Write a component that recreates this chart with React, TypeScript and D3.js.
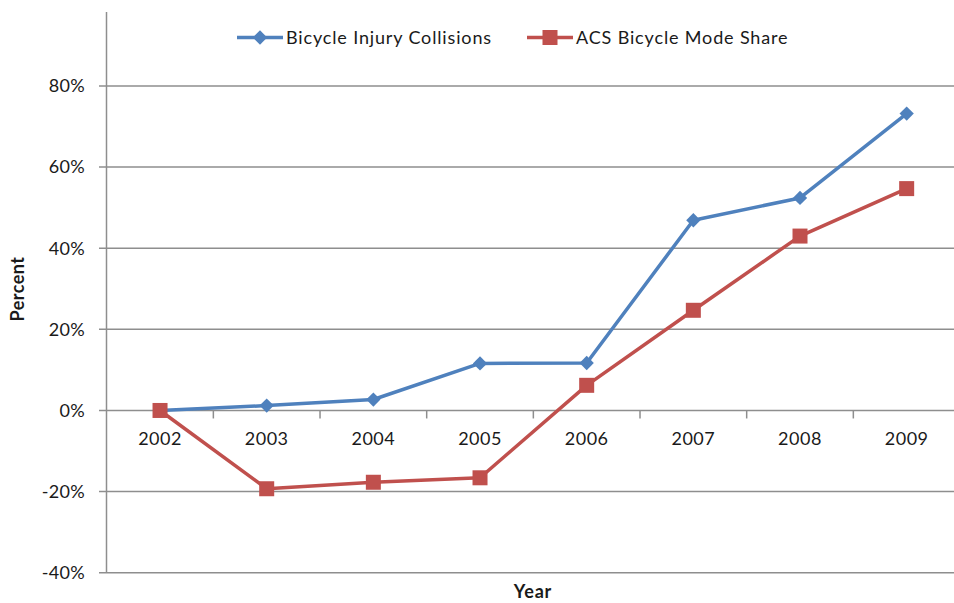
import React, { useEffect, useRef } from "react";
import * as d3 from "d3";

const years = ["2002", "2003", "2004", "2005", "2006", "2007", "2008", "2009"];
const injuryCollisions = [0, 0.012, 0.027, 0.116, 0.117, 0.469, 0.524, 0.732];
const modeShare = [0, -0.193, -0.177, -0.166, 0.062, 0.247, 0.43, 0.547];
const yTicks = [-0.4, -0.2, 0, 0.2, 0.4, 0.6, 0.8];
const seriesNames = ["Bicycle Injury Collisions", "ACS Bicycle Mode Share"];
const colors = ["#4F81BD", "#C0504D"];

const W = 954;
const H = 603;
const FONT = "Lato, 'Open Sans', sans-serif";

export default function App() {
  const ref = useRef<SVGSVGElement>(null);
  useEffect(() => {
    const svg = d3.select(ref.current);
    svg.selectAll("*").remove();
    const x = d3.scaleBand().domain(years).range([106.7, 960]);
    const y = d3.scaleLinear().domain([-0.4, 0.8]).range([572.7, 86]);
    const xc = (d: string) => (x(d) as number) + x.bandwidth() / 2;

    const g = svg.append("g");
    // gridlines
    g.selectAll("line.grid")
      .data(yTicks)
      .enter()
      .append("line")
      .attr("x1", 99)
      .attr("x2", W)
      .attr("y1", (d) => y(d))
      .attr("y2", (d) => y(d))
      .attr("stroke", "#8e8e8e")
      .attr("stroke-width", 1.5);
    // y axis line
    g.append("line")
      .attr("x1", 106.5)
      .attr("x2", 106.5)
      .attr("y1", 12)
      .attr("y2", y(-0.4))
      .attr("stroke", "#8e8e8e")
      .attr("stroke-width", 1.5);
    // x ticks at 0 line
    const bounds = years.map((d) => (x(d) as number) + x.bandwidth());
    g.selectAll("line.xt")
      .data(bounds)
      .enter()
      .append("line")
      .attr("x1", (d) => d)
      .attr("x2", (d) => d)
      .attr("y1", y(0))
      .attr("y2", y(0) + 8)
      .attr("stroke", "#8e8e8e")
      .attr("stroke-width", 1.5);
    // y tick labels
    g.selectAll("text.yl")
      .data(yTicks)
      .enter()
      .append("text")
      .attr("x", 85)
      .attr("y", (d) => y(d))
      .attr("dy", "0.35em")
      .attr("text-anchor", "end")
      .attr("font-family", FONT)
      .attr("font-size", 18)
      .attr("letter-spacing", 0.3)
      .attr("fill", "#1a1a1a")
      .text((d) => d3.format(".0%")(d).replace("−", "-"));
    // x labels
    g.selectAll("text.xl")
      .data(years)
      .enter()
      .append("text")
      .attr("x", (d) => xc(d))
      .attr("y", 439)
      .attr("dy", "0.35em")
      .attr("text-anchor", "middle")
      .attr("font-family", FONT)
      .attr("font-size", 18)
      .attr("letter-spacing", 0.5)
      .attr("fill", "#1a1a1a")
      .text((d) => d);
    // axis titles
    g.append("text")
      .attr("transform", `translate(18,289) rotate(-90)`)
      .attr("text-anchor", "middle")
      .attr("dy", "0.35em")
      .attr("font-family", FONT)
      .attr("font-size", 18)
      .attr("font-weight", "bold")
      .attr("letter-spacing", 0.5)
      .attr("fill", "#1a1a1a")
      .text("Percent");
    g.append("text")
      .attr("x", 533)
      .attr("y", 592)
      .attr("dy", "0.35em")
      .attr("text-anchor", "middle")
      .attr("font-family", FONT)
      .attr("font-size", 18)
      .attr("font-weight", "bold")
      .attr("letter-spacing", 0.8)
      .attr("fill", "#1a1a1a")
      .text("Year");

    const line = d3
      .line<number>()
      .x((_, i) => xc(years[i]))
      .y((d) => y(d));

    const data = [injuryCollisions, modeShare];
    data.forEach((s, si) => {
      g.append("path")
        .attr("d", line(s))
        .attr("fill", "none")
        .attr("stroke", colors[si])
        .attr("stroke-width", 3.5)
        .attr("stroke-linejoin", "round");
      if (si === 0) {
        g.selectAll(`path.m${si}`)
          .data(s)
          .enter()
          .append("path")
          .attr("d", d3.symbol(d3.symbolDiamond2, 130)() as string)
          .attr("transform", (d, i) => `translate(${xc(years[i])},${y(d)})`)
          .attr("fill", colors[si]);
      } else {
        g.selectAll(`rect.m${si}`)
          .data(s)
          .enter()
          .append("rect")
          .attr("x", (d, i) => xc(years[i]) - 7.5)
          .attr("y", (d) => y(d) - 7.5)
          .attr("width", 15)
          .attr("height", 15)
          .attr("fill", colors[si]);
      }
    });

    // legend
    const legendX = [237, 527];
    seriesNames.forEach((name, i) => {
      const lg = g.append("g").attr("transform", `translate(${legendX[i]},37.5)`);
      lg.append("line")
        .attr("x1", 0)
        .attr("x2", 46)
        .attr("stroke", colors[i])
        .attr("stroke-width", 3.5);
      if (i === 0) {
        lg.append("path")
          .attr("d", d3.symbol(d3.symbolDiamond2, 130)() as string)
          .attr("transform", "translate(23,0)")
          .attr("fill", colors[i]);
      } else {
        lg.append("rect")
          .attr("x", 15.5)
          .attr("y", -7.5)
          .attr("width", 15)
          .attr("height", 15)
          .attr("fill", colors[i]);
      }
      lg.append("text")
        .attr("x", 49)
        .attr("dy", "0.35em")
        .attr("font-family", FONT)
        .attr("font-size", 18)
        .attr("letter-spacing", 0.85)
        .attr("fill", "#1a1a1a")
        .text(name);
    });
  }, []);

  return (
    <svg
      ref={ref}
      width={W}
      height={H}
      style={{ position: "absolute", left: 0, top: 0, background: "#fff" }}
    />
  );
}
